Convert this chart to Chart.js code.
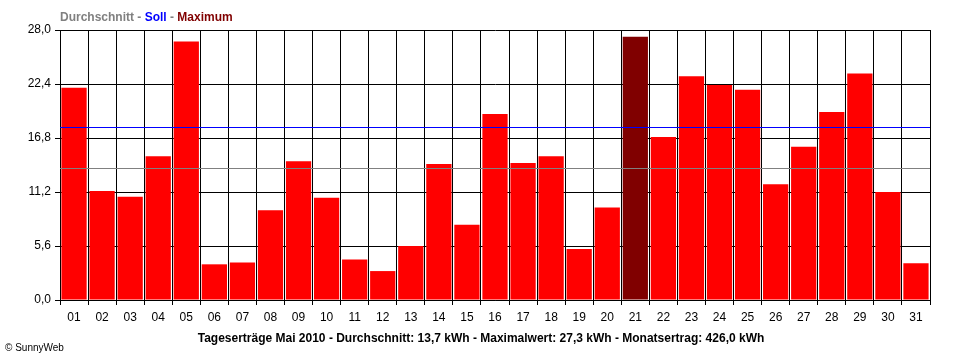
<!DOCTYPE html>
<html lang="de">
<head>
    <meta charset="UTF-8">
    <title>Tageserträge Mai 2010</title>
</head>
<style>
    body {
    margin: 0;
    background-color: #ffffff;
}

.wrap {
    width: 960px;
    height: 360px;
}
</style>
<body>
    <div class="wrap">
        <canvas id="dayChart" width="960" height="360"></canvas>
    </div>
    <script src="https://cdn.jsdelivr.net/npm/chart.js"></script>
    <script>
// Daily yields (kWh), May 2010
const days = ['01','02','03','04','05','06','07','08','09','10','11','12','13','14','15','16',
    '17','18','19','20','21','22','23','24','25','26','27','28','29','30','31'];
const yields = [22.0, 11.3, 10.7, 14.9, 26.8, 3.7, 3.9, 9.3, 14.4, 10.6, 4.2, 3.0, 5.6, 14.1, 7.8, 19.3,
    14.2, 14.9, 5.3, 9.6, 27.3, 16.9, 23.2, 22.3, 21.8, 12.0, 15.9, 19.5, 23.5, 11.2, 3.8];
const yTicks = [0, 5.6, 11.2, 16.8, 22.4, 28.0];
const averageValue = 13.7;
const targetValue = 17.9;

const legendParts = [
    { text: 'Durchschnitt', color: '#808080' },
    { text: ' - ', color: '#808080' },
    { text: 'Soll', color: '#0000ff' },
    { text: ' - ', color: '#808080' },
    { text: 'Maximum', color: '#800000' }
];
const footerText = 'Tageserträge Mai 2010 - Durchschnitt: 13,7 kWh - Maximalwert: 27,3 kWh - Monatsertrag: 426,0 kWh';
const creditText = '\u00A9 SunnyWeb';

const maxYield = Math.max(...yields);
const barColors = yields.map(v => v === maxYield ? '#800000' : '#ff0000');

const fontFamily = '"Liberation Sans", Arial, sans-serif';

// reference lines (average + target) and the texts around the plot
const extrasPlugin = {
    id: 'extras',
    afterDatasetsDraw(chart) {
        const ctx = chart.ctx;
        const area = chart.chartArea;
        const y = chart.scales.y;
        const lines = [
            { value: averageValue, color: '#808080' },
            { value: targetValue, color: '#0000ff' }
        ];
        ctx.save();
        ctx.lineWidth = 1;
        lines.forEach(l => {
            const py = Math.round(y.getPixelForValue(l.value)) + 0.5;
            ctx.strokeStyle = l.color;
            ctx.beginPath();
            ctx.moveTo(area.left, py);
            ctx.lineTo(area.right, py);
            ctx.stroke();
        });
        ctx.restore();
    },
    afterDraw(chart) {
        const ctx = chart.ctx;
        ctx.save();
        ctx.textBaseline = 'alphabetic';
        ctx.font = 'bold 12px ' + fontFamily;
        let x = 60;
        legendParts.forEach(p => {
            ctx.fillStyle = p.color;
            ctx.fillText(p.text, x, 21);
            x += ctx.measureText(p.text).width;
        });

        ctx.fillStyle = '#000000';
        ctx.textAlign = 'center';
        ctx.fillText(footerText, 481, 342);

        ctx.font = '10px ' + fontFamily;
        ctx.textAlign = 'left';
        ctx.fillText(creditText, 5, 351);
        ctx.restore();
    }
};

const ctx = document.getElementById('dayChart').getContext('2d');
new Chart(ctx, {
    type: 'bar',
    data: {
        labels: days,
        datasets: [{
            data: yields,
            backgroundColor: barColors,
            borderWidth: 0,
            categoryPercentage: 1.0,
            barPercentage: 0.9
        }]
    },
    options: {
        responsive: false,
        animation: false,
        layout: {
            padding: { left: 0, right: 30, top: 30, bottom: 0 }
        },
        plugins: {
            legend: { display: false },
            tooltip: { enabled: false }
        },
        scales: {
            x: {
                offset: true,
                grid: {
                    offset: true,
                    color: '#000000',
                    lineWidth: 1,
                    drawTicks: true,
                    tickLength: 5
                },
                border: { display: true, color: '#000000', width: 1 },
                ticks: {
                    color: '#000000',
                    font: { family: fontFamily, size: 12 },
                    padding: 5,
                    maxRotation: 0,
                    autoSkip: false
                },
                afterFit(scale) {
                    scale.height = 60;
                }
            },
            y: {
                min: 0,
                max: 28,
                grid: {
                    color: '#000000',
                    lineWidth: 1,
                    drawTicks: true,
                    tickLength: 5
                },
                border: { display: true, color: '#000000', width: 1 },
                afterBuildTicks(scale) {
                    scale.ticks = yTicks.map(v => ({ value: v }));
                },
                ticks: {
                    color: '#000000',
                    font: { family: fontFamily, size: 12 },
                    padding: 4,
                    callback: v => v.toFixed(1).replace('.', ',')
                },
                afterFit(scale) {
                    scale.width = 60;
                }
            }
        }
    },
    plugins: [extrasPlugin]
});
    </script>
</body>
</html>
